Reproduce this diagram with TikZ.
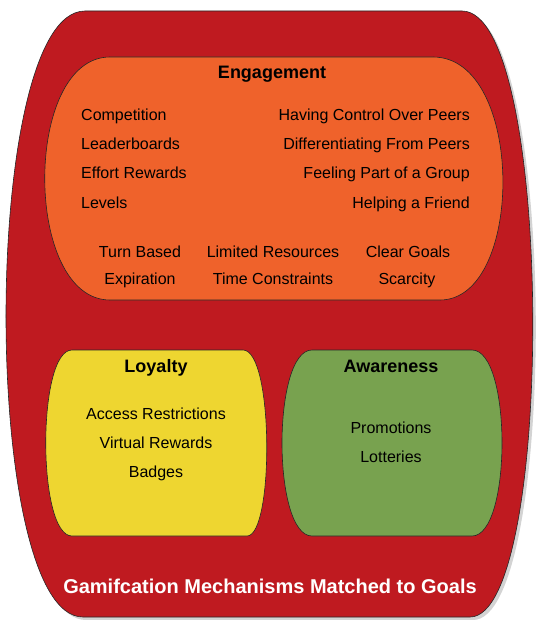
\documentclass[tikz,border=0pt]{standalone}
\usepackage{fontspec}
\setmainfont{Liberation Sans}
\usetikzlibrary{shadows}

\definecolor{goalred}{HTML}{BF1A20}
\definecolor{engorange}{HTML}{EF622B}
\definecolor{loyyellow}{HTML}{EED630}
\definecolor{awagreen}{HTML}{78A24F}

\tikzset{
    goal/.style={draw=black!85, line width=0.6pt},
    item/.style={inner sep=0pt, font=\fontsize{16}{19}\selectfont},
    head/.style={inner sep=0pt, font=\fontsize{18}{21}\selectfont\bfseries},
}

\begin{document}
\begin{tikzpicture}[x=1pt, y=-1pt]
    \useasboundingbox (0,0) rectangle (538,620);

    % outer goal container
    \draw[goal, fill=goalred, drop shadow={shadow xshift=3pt, shadow yshift=-3pt, opacity=0.35}]
        (85,11) -- (462,11) .. controls (555,11) and (555,617) .. (470,617)
        -- (83,617) .. controls (-20,617) and (-20,11) .. (85,11) -- cycle;

    % engagement
    \draw[goal, fill=engorange]
        (110,57) -- (433,57) .. controls (525,57) and (525,300) .. (440,300)
        -- (110,300) .. controls (23,300) and (23,57) .. (110,57) -- cycle;

    % loyalty
    \draw[goal, fill=loyyellow]
        (72,350) -- (243,350) .. controls (274,350) and (274,536) .. (247,536)
        -- (72,536) .. controls (37,536) and (37,350) .. (72,350) -- cycle;

    % awareness
    \draw[goal, fill=awagreen]
        (312,350) -- (472,350) .. controls (512,350) and (512,536) .. (472,536)
        -- (312,536) .. controls (272,536) and (272,350) .. (312,350) -- cycle;

    \node[head, anchor=base] (eng) at (272,79) {Engagement};

    \node[item, anchor=base west] (comp) at (81,121) {Competition};
    \node[item, anchor=base west] (lead) at (81,150) {Leaderboards};
    \node[item, anchor=base west] (effort) at (81,179) {Effort Rewards};
    \node[item, anchor=base west] (levels) at (81,208) {Levels};

    \node[item, anchor=base east] (control) at (470,121) {Having Control Over Peers};
    \node[item, anchor=base east] (diff) at (470,150) {Differentiating From Peers};
    \node[item, anchor=base east] (group) at (470,179) {Feeling Part of a Group};
    \node[item, anchor=base east] (friend) at (470,208) {Helping a Friend};

    \node[item, anchor=base] (turn) at (140,257) {Turn Based};
    \node[item, anchor=base] (limited) at (273,257) {Limited Resources};
    \node[item, anchor=base] (clear) at (408,257) {Clear Goals};
    \node[item, anchor=base] (expire) at (140,284) {Expiration};
    \node[item, anchor=base] (time) at (273,284) {Time Constraints};
    \node[item, anchor=base] (scarce) at (407,284) {Scarcity};

    \node[head, anchor=base] (loy) at (156,372) {Loyalty};
    \node[item, anchor=base] (access) at (156,419) {Access Restrictions};
    \node[item, anchor=base] (virtual) at (156,448) {Virtual Rewards};
    \node[item, anchor=base] (badges) at (156,477) {Badges};

    \node[head, anchor=base] (awa) at (391,372) {Awareness};
    \node[item, anchor=base] (promo) at (391,433) {Promotions};
    \node[item, anchor=base] (lotto) at (391,462) {Lotteries};

    \node[head, anchor=base, text=white, font=\fontsize{20}{24}\selectfont\bfseries] (caption) at (270,593)
        {Gamifcation Mechanisms Matched to Goals};
\end{tikzpicture}
\end{document}
